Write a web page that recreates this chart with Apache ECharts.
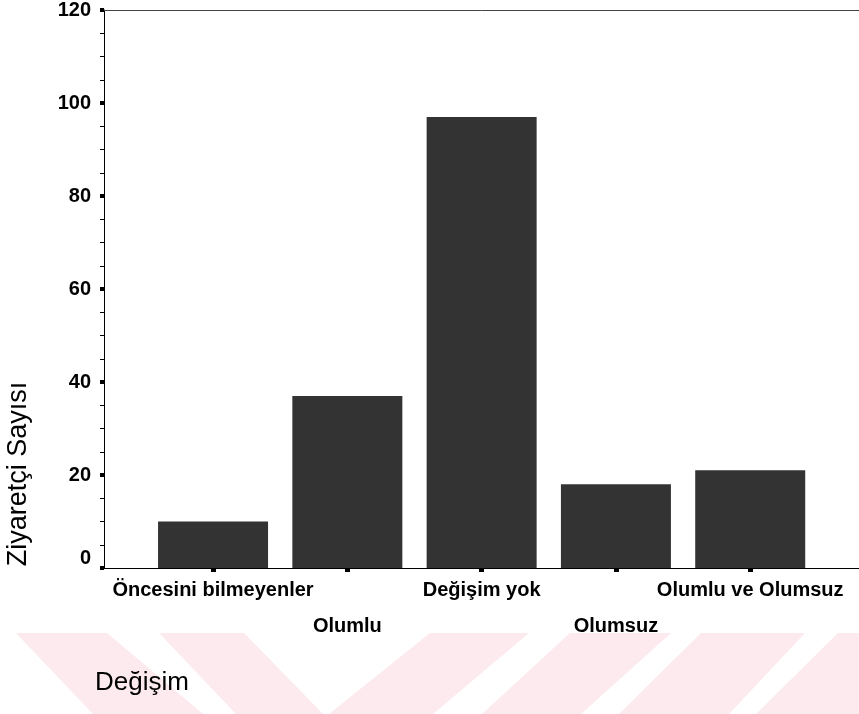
<!DOCTYPE html>
<html>
<head>
<meta charset="utf-8">
<script src="https://cdn.jsdelivr.net/npm/echarts@6/dist/echarts.min.js"></script>
<style>html,body{margin:0;padding:0;background:#fff}#c{width:859px;height:714px}</style>
</head>
<body>
<div id="c"></div>
<script>
const categories = ['Öncesini bilmeyenler', 'Olumlu', 'Değişim yok', 'Olumsuz', 'Olumlu ve Olumsuz'];
const values = [10, 37, 97, 18, 21];
const yTicks = [0, 20, 40, 60, 80, 100, 120];
const yTitle = 'Ziyaretçi Sayısı';
const xTitle = 'Değişim';

const positions = categories.map((_, i) => i);
const evenPos = positions.filter(i => i % 2 === 0);
const oddPos = positions.filter(i => i % 2 === 1);
const seriesData = values.map((v, i) => [positions[i], v]);

const FONT = '"Liberation Sans", Arial, sans-serif';
const pink = '#fdeaee';
const stripes = [
  [[16,633],[107,633],[203,714],[93,714]],
  [[159,633],[244,633],[323,714],[236,714]],
  [[430,633],[529,633],[433,714],[329,714]],
  [[570,633],[671,633],[581,714],[482,714]],
  [[701,633],[805,633],[729,714],[619,714]],
  [[838,633],[900,633],[859,714],[756,714]]
];

const XMIN = -0.812, XMAX = 4.81;
const labelStyle = {
  color: '#000', fontFamily: FONT, fontWeight: 'bold', fontSize: 20,
  showMinLabel: true, showMaxLabel: true, hideOverlap: false,
  formatter: function (v) { return categories[Math.round(v)]; }
};

const chart = echarts.init(document.getElementById('c'), null, {renderer: 'canvas'});
chart.setOption({
  animation: false,
  backgroundColor: '#ffffff',
  grid: {left: 104, right: 0, top: 10, bottom: 146, containLabel: false},
  xAxis: [{
    type: 'value',
    min: XMIN, max: XMAX,
    splitLine: {show: false},
    axisLine: {show: true, onZero: false, lineStyle: {color: '#000', width: 1}},
    axisTick: {show: true, customValues: positions, length: 4, inside: false, lineStyle: {color: '#000', width: 5}},
    axisLabel: Object.assign({show: true, customValues: evenPos, margin: 12}, labelStyle)
  }, {
    type: 'value',
    position: 'bottom',
    min: XMIN, max: XMAX,
    splitLine: {show: false},
    axisLine: {show: false, onZero: false},
    axisTick: {show: false},
    axisLabel: Object.assign({show: true, customValues: oddPos, margin: 48}, labelStyle)
  }, {
    type: 'value',
    position: 'top',
    min: XMIN, max: XMAX,
    splitLine: {show: false},
    axisLine: {show: true, onZero: false, lineStyle: {color: '#444', width: 1}},
    axisTick: {show: false},
    axisLabel: {show: false}
  }],
  yAxis: {
    type: 'value',
    min: yTicks[0],
    max: yTicks[yTicks.length - 1],
    interval: yTicks[1] - yTicks[0],
    splitLine: {show: false},
    axisLine: {show: true, onZero: false, lineStyle: {color: '#000', width: 1}},
    axisTick: {show: true, inside: false, length: 4, lineStyle: {color: '#000', width: 4}},
    minorTick: {show: true, splitNumber: 4, length: 4, lineStyle: {color: '#000', width: 1}},
    axisLabel: {
      margin: 13,
      showMinLabel: true,
      showMaxLabel: true,
      color: '#000',
      fontFamily: FONT,
      fontWeight: 'bold',
      fontSize: 20,
      formatter: function (v) { return v === 0 ? '{z|0}' : String(v); },
      rich: {z: {fontFamily: FONT, fontWeight: 'bold', fontSize: 20, color: '#000', padding: [0, 0, 20, 0]}}
    }
  },
  series: [{
    type: 'bar',
    xAxisIndex: 0,
    data: seriesData,
    barWidth: 110,
    itemStyle: {color: '#333333'},
    z: 2
  }],
  graphic: [
    ...stripes.map(p => ({type: 'polygon', silent: true, z: -10, shape: {points: p}, style: {fill: pink}})),
    {
      type: 'text',
      x: 19, y: 474,
      rotation: Math.PI / 2,
      style: {text: yTitle, fontFamily: FONT, fontSize: 27, fill: '#000', align: 'center', verticalAlign: 'middle'}
    },
    {
      type: 'text',
      x: 95, y: 683,
      style: {text: xTitle, fontFamily: FONT, fontSize: 26, fill: '#000', align: 'left', verticalAlign: 'middle'}
    }
  ]
});
</script>
</body>
</html>
